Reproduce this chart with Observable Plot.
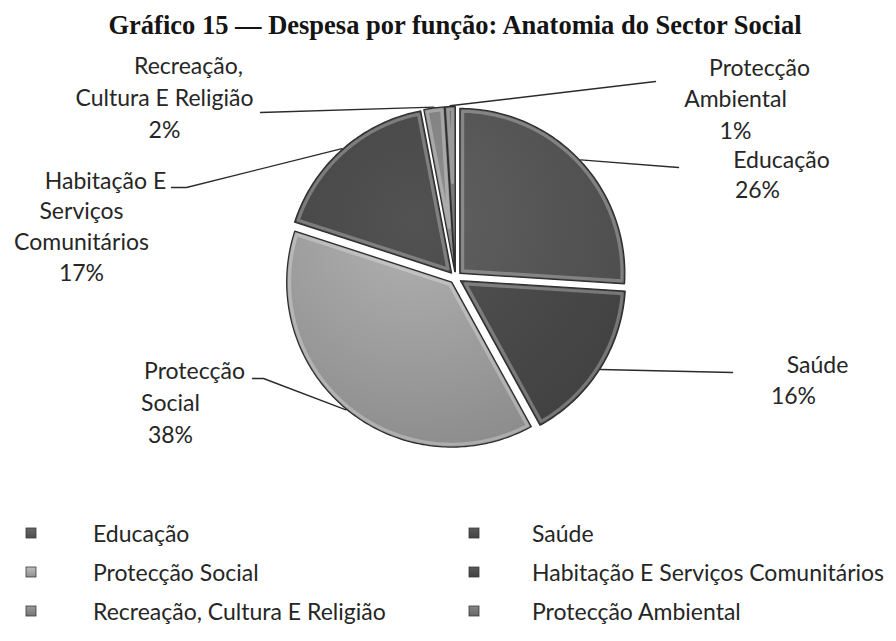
<!DOCTYPE html>
<html><head><meta charset="utf-8">
<script src="https://cdn.jsdelivr.net/npm/d3@7"></script>
<script src="https://cdn.jsdelivr.net/npm/@observablehq/plot@0.6"></script>
<style>
html,body{margin:0;padding:0;background:#fff;}
#root{position:relative;width:896px;height:641px;overflow:hidden;color:#2b2b2b;}
#title{position:absolute;left:455px;top:12px;transform:translateX(-50%);white-space:nowrap;
  font:bold 26.5px "Liberation Serif","Times New Roman",serif;color:#141414;line-height:1;margin:0;}
#chart{position:absolute;left:0;top:44px;}
#legend{position:absolute;left:0;top:504px;}
</style></head>
<body><div id="root"><div id="title">Gráfico 15 — Despesa por função: Anatomia do Sector Social</div><div id="chart"></div><div id="legend"></div></div>
<script>
// ---- data ----
const categories = ["Educação", "Saúde", "Protecção Social", "Habitação E Serviços Comunitários", "Recreação, Cultura E Religião", "Protecção Ambiental"];
const shares = [26, 16, 38, 17, 2, 1];
const labelLines = [["Educação"], ["Saúde"], ["Protecção", "Social"], ["Habitação E", "Serviços", "Comunitários"], ["Recreação,", "Cultura E Religião"], ["Protecção", "Ambiental"]];

// ---- style / layout ----
const sliceColors = ["#575757", "#4b4b4b", "#a0a0a0", "#4a4a4a", "#828282", "#707070"];
const W = 896, TOP = 44, SVG_H = 460;
const CX = 455, CY = 277, R = 165;   // page px
const EXPLODE = 0.036;
const FONT = "Lato, 'Open Sans', sans-serif", FS = 23, TXT = "#262626";
const labelLayout = [
  {cx: 757, y0: 167, dy: 30, end: [[678, 167]]},
  {cx: 793, y0: 372, dy: 31, end: [[732, 372]]},
  {cx: 170, y0: 378, dy: 32, end: [[263, 378], [252, 378]]},
  {cx: 81, y0: 188, dy: 30.7, end: [[186, 187], [171, 187]]},
  {cx: 164, y0: 73, dy: 32, end: [[260, 112]]},
  {cx: 735, y0: 75, dy: 31.5, end: [[655, 81]]}
];
const ux = px => (px - CX) / R, uy = py => (CY - py) / R;

const total = d3.sum(shares);
const arcs = d3.pie().sort(null).value(d => d)(shares);

function sector(a, i, ox, oy, d, out) {
  const mid = (a.startAngle + a.endAngle) / 2, alpha = a.endAngle - a.startAngle;
  const n = Math.max(2, Math.ceil(alpha / (Math.PI / 180)));
  const rr = 1 - d, dt = d > 0 ? Math.asin(d / rr) : 0;
  if (alpha <= 2 * dt + 0.01) return;
  const s = d > 0 ? d / Math.sin(alpha / 2) : 0;
  const ax = ox + s * Math.sin(mid), ay = oy + s * Math.cos(mid);
  out.push({x: ax, y: ay, k: i});
  for (let j = 0; j <= n; j++) {
    const t = a.startAngle + dt + (alpha - 2 * dt) * j / n;
    out.push({x: ox + rr * Math.sin(t), y: oy + rr * Math.cos(t), k: i});
  }
  out.push({x: ax, y: ay, k: i});
}

const slicePts = [], bevelPts = [], leaderPts = [], textPts = [];
arcs.forEach((a, i) => {
  const mid = (a.startAngle + a.endAngle) / 2;
  const ox = EXPLODE * Math.sin(mid), oy = EXPLODE * Math.cos(mid);
  sector(a, i, ox, oy, 0, slicePts);
  sector(a, i, ox, oy, 0.017, bevelPts);
  const L = labelLayout[i];
  leaderPts.push({x: ox + 1.005 * Math.sin(mid), y: oy + 1.005 * Math.cos(mid), k: i});
  L.end.forEach(([px, py]) => leaderPts.push({x: ux(px), y: uy(py), k: i}));
  const lines = [...labelLines[i], Math.round(shares[i] / total * 100) + "%"];
  lines.forEach((t, j) => textPts.push({x: ux(L.cx + (j === 0 ? 24 : 0)), y: uy(L.y0 + j * L.dy), text: t}));
});

const chart = Plot.plot({
  width: W, height: SVG_H, margin: 0,
  x: {domain: [-1, 1], range: [CX - R, CX + R], axis: null},
  y: {domain: [-1, 1], range: [CY - TOP + R, CY - TOP - R], axis: null},
  color: {type: "identity"},
  marks: [
    Plot.line(slicePts, {x: "x", y: "y", z: "k", fill: d => `url(#grad${d.k})`, stroke: "#2e2e2e", strokeWidth: 1.3, strokeLinejoin: "round"}),
    Plot.line(bevelPts, {x: "x", y: "y", z: "k", stroke: "#ffffff", strokeOpacity: 0.28, strokeWidth: 3.2, strokeLinejoin: "round"}),
    Plot.line(leaderPts, {x: "x", y: "y", z: "k", stroke: "#2b2b2b", strokeWidth: 1.4}),
    Plot.text(textPts, {x: "x", y: "y", text: "text", textAnchor: "middle", lineAnchor: "bottom", fontSize: FS, fontFamily: FONT, fill: TXT})
  ]
});
const defs = d3.select(chart).insert("defs", ":first-child");
sliceColors.forEach((c, i) => {
  const g = defs.append("radialGradient").attr("id", "grad" + i).attr("gradientUnits", "userSpaceOnUse")
    .attr("cx", CX - 0.25 * R).attr("cy", CY - TOP - 0.35 * R).attr("r", 1.6 * R);
  g.append("stop").attr("offset", 0).attr("stop-color", d3.color(c).brighter(0.3));
  g.append("stop").attr("offset", 1).attr("stop-color", d3.color(c).darker(0.45));
});
document.getElementById("chart").appendChild(chart);

// ---- legend ----
const leg = d3.select("#legend").append("svg").attr("width", W).attr("height", 137);
const lg = leg.append("defs");
sliceColors.forEach((c, i) => {
  const g = lg.append("linearGradient").attr("id", "lg" + i).attr("x1", 0).attr("y1", 0).attr("x2", 0).attr("y2", 1);
  g.append("stop").attr("offset", 0).attr("stop-color", d3.color(c).brighter(0.5));
  g.append("stop").attr("offset", 1).attr("stop-color", d3.color(c).darker(0.3));
});
const colX = [31, 474], textX = [93, 532], rowBase = [38, 77, 116];
categories.forEach((name, i) => {
  const col = i % 2, row = Math.floor(i / 2);
  leg.append("rect").attr("x", colX[col] - 5).attr("y", rowBase[row] - 14).attr("width", 10).attr("height", 10)
    .attr("fill", `url(#lg${i})`).attr("stroke", "#3a3a3a").attr("stroke-width", 0.8);
  leg.append("text").attr("x", textX[col]).attr("y", rowBase[row]).attr("font-family", FONT).attr("font-size", FS)
    .attr("fill", TXT).text(name);
});
</script></body></html>
